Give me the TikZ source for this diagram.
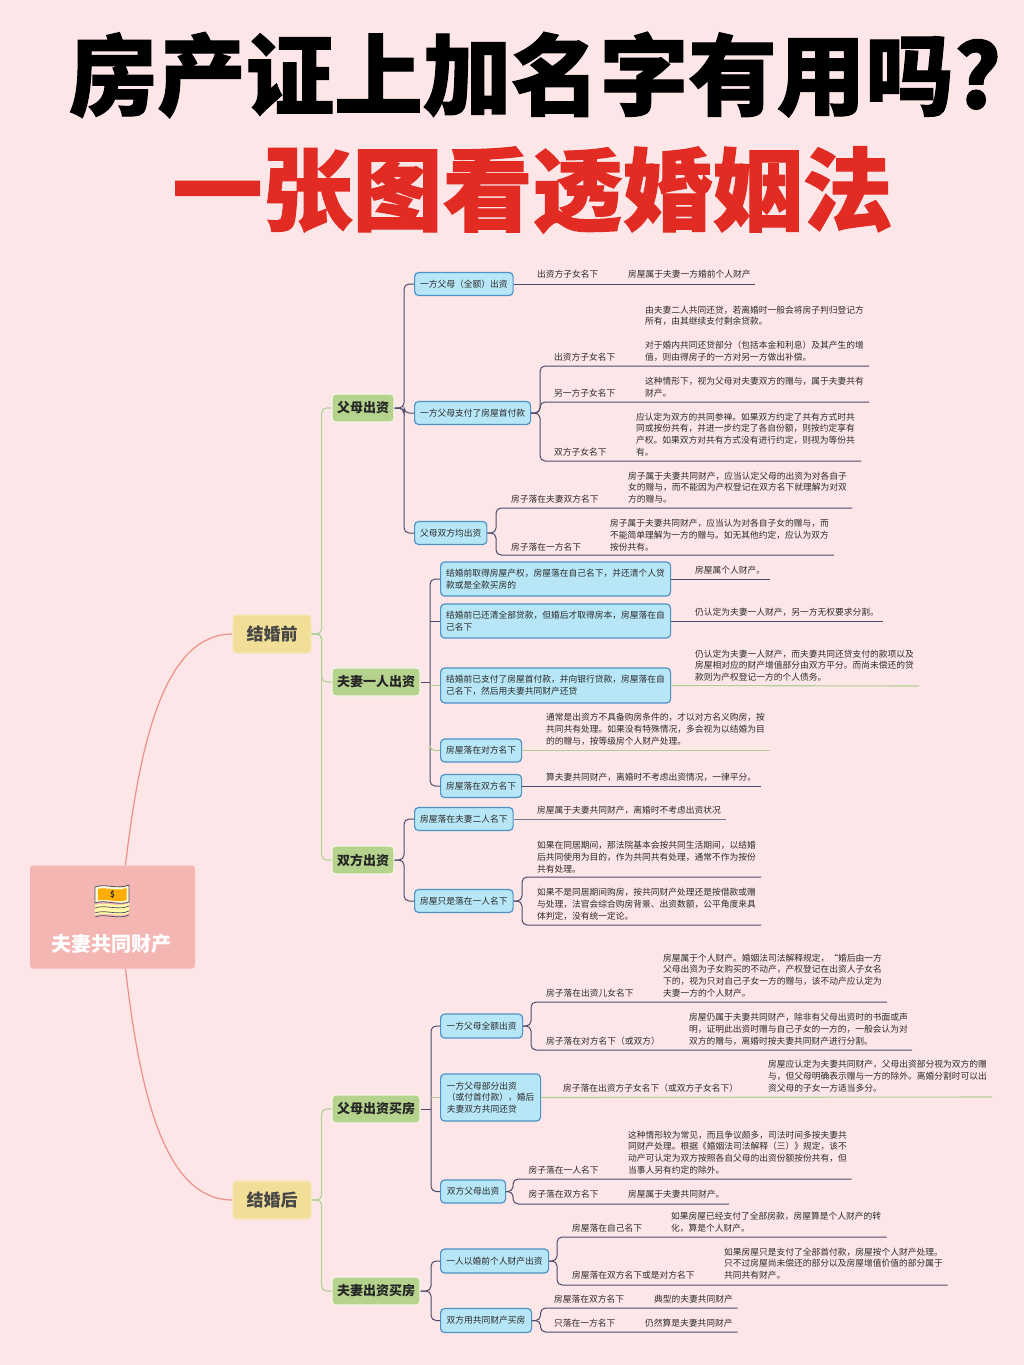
\documentclass[tikz,border=0pt]{standalone}
\usepackage{fontspec}
\setmainfont{Noto Sans CJK SC}
\newfontfamily\titlef[FakeBold=1.2]{Noto Sans CJK SC Black}
\definecolor{bgc}{HTML}{FDE6E8}
\definecolor{rootc}{HTML}{F4B6B3}
\definecolor{yelc}{HTML}{F1DE97}
\definecolor{yelb}{HTML}{F6E8BC}
\definecolor{grnc}{HTML}{B5D38C}
\definecolor{grnb}{HTML}{F6F6EC}
\definecolor{bluc}{HTML}{B7E6F6}
\definecolor{blub}{HTML}{4F93C6}
\definecolor{darkl}{HTML}{4B4B69}
\definecolor{grayl}{HTML}{77778F}
\definecolor{lgrn}{HTML}{AFCF95}
\definecolor{sal}{HTML}{F08F88}
\definecolor{titler}{HTML}{E22B22}
\definecolor{txt}{HTML}{2B2B2B}
\tikzset{
  rootbox/.style={fill=rootc,rounded corners=3pt,inner sep=0pt},
  yelbox/.style={fill=yelc,draw=yelb,line width=1.2pt,rounded corners=3.5pt,minimum width=78pt,minimum height=38pt,inner sep=0pt,font=\fontsize{17}{20}\selectfont\bfseries,text=black!72},
  grnbox/.style={fill=grnc,draw=grnb,line width=1.3pt,rounded corners=3.5pt,minimum height=28pt,inner sep=4pt,font=\fontsize{13}{16}\selectfont\bfseries,text=black!85},
  blubox/.style={fill=bluc,draw=blub,line width=1.2pt,rounded corners=4pt,anchor=west,inner xsep=5.5pt,inner ysep=0pt,align=left,font=\fontsize{8.75}{11.6}\selectfont,text=txt},
  leaf/.style={anchor=west,inner sep=0pt,align=left,font=\fontsize{8.75}{11.8}\selectfont,text=txt},
  conn/.style={draw=darkl,line width=1pt,rounded corners=5pt},
  conngray/.style={draw=grayl,line width=1pt,rounded corners=5pt},
  conngrn/.style={draw=lgrn,line width=1.1pt,rounded corners=5pt},
  connsal/.style={draw=sal,line width=1.2pt},
  titletxt/.style={inner sep=0pt,font=\titlef\fontsize{88.5}{100}\selectfont},
  titletxtb/.style={inner sep=0pt,font=\titlef\fontsize{90}{100}\selectfont}
}
\newcommand{\lfnode}[4]{\node[leaf] (#1) at (#2,#3) {#4};}
\newcommand{\blnode}[6]{\node[blubox,minimum width=#3pt,minimum height=#4pt] (#1) at (#2,#5) {#6};}
\newcommand{\tipc}[3]{\coordinate (#1) at (#2,#3);}
\begin{document}
\begin{tikzpicture}[x=1pt,y=-1pt]
\useasboundingbox (0,0) rectangle (1024,1365);
\fill[bgc] (0,0) rectangle (1024,1365);
% titles
\node[titletxt,text=black] (t1) at (535,75) {房产证上加名字有用吗?};
\node[titletxtb,text=titler] (t2) at (532.5,190) {一张图看透婚姻法};
% root
\node[rootbox,minimum width=165pt,minimum height=103pt] (root) at (112.5,917) {};
\node[inner sep=0pt,font=\fontsize{20}{24}\selectfont\bfseries,text=white] (roott) at (111.5,944) {夫妻共同财产};
% icon
\foreach \yy in {905,910}{\fill[yellow!35] (95,\yy) .. controls (105,\yy-4) and (118,\yy+3) .. (129,\yy-2) -- (129,\yy+3) .. controls (118,\yy+8) and (105,\yy+1) .. (95,\yy+5) -- cycle;}
\draw[darkl,line width=.8pt,fill=yellow!15] (95,887) .. controls (105,883) and (118,890) .. (129,885) -- (129,902) .. controls (118,906) and (105,899) .. (95,903) -- cycle;
\fill[orange!65!yellow] (98,889) .. controls (105,886.5) and (118,892) .. (126.5,888) -- (126.5,900) .. controls (118,903.5) and (105,898) .. (98,900.5) -- cycle;
\node[inner sep=0pt,font=\fontsize{8}{8}\selectfont\bfseries,text=black!80] (dollar) at (112.5,895) {\$};
\foreach \yy in {908,913,917}{\draw[darkl,line width=.7pt] (95,\yy) .. controls (105,\yy-4) and (118,\yy+3) .. (129,\yy-2);}
% level 1
\node[yelbox] (qian) at (272,634) {结婚前};
\node[yelbox] (hou) at (272,1200) {结婚后};
\draw[connsal] (root.north) ++(13,0) .. controls (140,740) and (165,634) .. (qian.west);
\draw[connsal] (root.south) ++(13,0) .. controls (140,1095) and (165,1200) .. (hou.west);
% level 2
\node[grnbox,minimum width=62pt] (g1) at (363,408) {父母出资};
\node[grnbox,minimum width=88pt] (g2) at (376,682) {夫妻一人出资};
\node[grnbox,minimum width=62pt] (g3) at (363,860) {双方出资};
\node[grnbox,minimum width=88pt] (g4) at (376,1109) {父母出资买房};
\node[grnbox,minimum width=88pt] (g5) at (376,1291) {夫妻出资买房};
\foreach \g in {g1,g2,g3}{\draw[conngrn] (qian.east) -- +(10,0) |- (\g.west);}
\foreach \g in {g4,g5}{\draw[conngrn] (hou.east) -- +(10,0) |- (\g.west);}
% ---- g1
\blnode{a1}{414}{98}{23}{284}{一方父母（全额）出资}
\blnode{a2}{414}{116}{23}{413}{一方父母支付了房屋首付款}
\blnode{a3}{414}{72}{23}{533}{父母双方均出资}
\foreach \n in {a1,a2,a3}{\draw[conn] (g1.east) -- (404,408) |- (\n.west);}
\lfnode{a1l}{537}{274.5}{出资方子女名下}
\lfnode{a1t}{628}{274.5}{房屋属于夫妻一方婚前个人财产}
\tipc{a1e}{755}{284}
\draw[conn] (a1.east) -- (a1e);
\lfnode{a2l1}{554}{357}{出资方子女名下}
\lfnode{a2t1}{645}{333.5}{由夫妻二人共同还贷，若离婚时一般会将房子判归登记方\\所有，由其继续支付剩余贷款。\\[11.8pt]对于婚内共同还贷部分（包括本金和利息）及其产生的增\\值，则由得房子的一方对另一方做出补偿。}
\lfnode{a2l2}{554}{393}{另一方子女名下}
\lfnode{a2t2}{645}{387}{这种情形下，视为父母对夫妻双方的赠与，属于夫妻共有\\财产。}
\lfnode{a2l3}{554}{452}{双方子女名下}
\lfnode{a2t3}{636}{434.5}{应认定为双方的共同参禅。如果双方约定了共有方式时共\\同或按份共有，并进一步约定了各自份额，则按约定享有\\产权。如果双方对共有方式没有进行约定，则视为等份共\\有。}
\tipc{a2e1}{869}{366}\tipc{a2e2}{869}{402}\tipc{a2e3}{861}{461}
\foreach \e in {a2e1,a2e2,a2e3}{\draw[conn] (a2.east) -- (540,413) |- (\e);}
\lfnode{a3l1}{511}{499}{房子落在夫妻双方名下}
\lfnode{a3t1}{628}{487.5}{房子属于夫妻共同财产，应当认定父母的出资为对各自子\\女的赠与，而不能因为产权登记在双方名下就理解为对双\\方的赠与。}
\lfnode{a3l2}{511}{547}{房子落在一方名下}
\lfnode{a3t2}{610}{535}{房子属于夫妻共同财产，应当认为对各自子女的赠与，而\\不能简单理解为一方的赠与。如无其他约定，应认为双方\\按份共有。}
\tipc{a3e1}{852}{508}\tipc{a3e2}{834}{555}
\foreach \e in {a3e1,a3e2}{\draw[conn] (a3.east) -- (496,533) |- (\e);}
% ---- g2
\blnode{b1}{440}{230}{34}{579}{结婚前取得房屋产权，房屋落在自己名下，并还清个人贷\\款或是全款买房的}
\blnode{b2}{440}{230}{34}{621}{结婚前已还清全部贷款，但婚后才取得房本，房屋落在自\\己名下}
\blnode{b3}{440}{230}{35}{685.5}{结婚前已支付了房屋首付款，并向银行贷款，房屋落在自\\己名下，然后用夫妻共同财产还贷}
\blnode{b4}{440}{81}{23}{750.5}{房屋落在对方名下}
\blnode{b5}{440}{81}{23}{786}{房屋落在双方名下}
\draw[conn] (g2.east) -- (430,682);
\draw[conn] (b1.west) -- (430,579) -- (430,786) -- (b5.west);
\draw[conn] (b2.west) -- (430,621);
\draw[conngrn] (430,685.5) -- (b3.west);
\draw[conngrn] (430,745) |- (b4.west);
\lfnode{b1t}{695}{570}{房屋属个人财产。}
\lfnode{b2t}{695}{612}{仍认定为夫妻一人财产，另一方无权要求分割。}
\lfnode{b3t}{695}{665.5}{仍认定为夫妻一人财产，而夫妻共同还贷支付的款项以及\\房屋相对应的财产增值部分由双方平分。而尚未偿还的贷\\款则为产权登记一方的个人债务。}
\lfnode{b4t}{546}{729.5}{通常是出资方不具备购房条件的，才以对方名义购房，按\\共同共有处理。如果没有特殊情况，多会视为以结婚为目\\的的赠与，按等级房个人财产处理。}
\lfnode{b5t}{546}{777}{算夫妻共同财产，离婚时不考虑出资情况，一律平分。}
\tipc{b1e}{770}{579}\tipc{b2e}{883}{621}\tipc{b3e}{919}{686}\tipc{b4e}{770}{750.5}\tipc{b5e}{761}{786}
\draw[conn] (b1.east) -- (b1e);
\draw[conn] (b2.east) -- (b2e);
\draw[conngrn] (b3.east) -- (b3e);
\draw[conngrn] (b4.east) -- (b4e);
\draw[conn] (b5.east) -- (b5e);
% ---- g3
\blnode{c1}{414}{98}{23}{819}{房屋落在夫妻二人名下}
\blnode{c2}{414}{98}{23}{901}{房屋只是落在一人名下}
\foreach \n in {c1,c2}{\draw[conn] (g3.east) -- (404,860) |- (\n.west);}
\lfnode{c1t}{537}{810}{房屋属于夫妻共同财产，离婚时不考虑出资状况}
\tipc{c1e}{726}{819}
\draw[conngray] (c1.east) -- (c1e);
\lfnode{c2t1}{537}{857}{如果在同居期间，那法院基本会按共同生活期间，以结婚\\后共同使用为目的，作为共同共有处理，通常不作为按份\\共有处理。}
\lfnode{c2t2}{537}{904.5}{如果不是同居期间购房，按共同财产处理还是按借款或赠\\与处理，法官会综合购房背景、出资数额，公平角度来具\\体判定，没有统一定论。}
\tipc{c2e1}{761}{877}\tipc{c2e2}{761}{925}
\foreach \e in {c2e1,c2e2}{\draw[conn] (c2.east) -- (522,901) |- (\e);}
% ---- g4
\blnode{d1}{440}{82}{24}{1026}{一方父母全额出资}
\blnode{d2}{440}{100}{47}{1097.5}{一方父母部分出资\\（或付首付款），婚后\\夫妻双方共同还贷}
\blnode{d3}{440}{65}{23}{1191.5}{双方父母出资}
\draw[conn] (g4.east) -- (431,1109);
\draw[conn] (d1.west) -- (431,1026) -- (431,1191.5) -- (d3.west);
\draw[conngrn] (431,1097.5) -- (d2.west);
\lfnode{d1l1}{546}{993}{房子落在出资儿女名下}
\lfnode{d1t1}{663}{975.5}{房屋属于个人财产。婚姻法司法解释规定，“婚后由一方\\父母出资为子女购买的不动产，产权登记在出资人子女名\\下的，视为只对自己子女一方的赠与，该不动产应认定为\\夫妻一方的个人财产。}
\lfnode{d1l2}{546}{1041}{房子落在对方名下（或双方）}
\lfnode{d1t2}{689}{1029}{房屋仍属于夫妻共同财产，除非有父母出资时的书面或声\\明，证明此出资时赠与自己子女的一方的，一般会认为对\\双方的赠与，离婚时按夫妻共同财产进行分割。}
\tipc{d1e1}{887}{1002}\tipc{d1e2}{912}{1050}
\foreach \e in {d1e1,d1e2}{\draw[conn] (d1.east) -- (531,1026) |- (\e);}
\lfnode{d2l}{563}{1088}{房子落在出资方子女名下（或双方子女名下）}
\lfnode{d2t}{768}{1076}{房屋应认定为夫妻共同财产，父母出资部分视为双方的赠\\与，但父母明确表示赠与一方的除外。离婚分割时可以出\\资父母的子女一方适当多分。}
\tipc{d2e}{992}{1097}
\draw[conngrn] (d2.east) -- (d2e);
\lfnode{d3l1}{528.5}{1170}{房子落在一人名下}
\lfnode{d3t1}{628}{1152.5}{这种情形较为常见，而且争议颇多，司法时间多按夫妻共\\同财产处理。根据《婚姻法司法解释（三）》规定，该不\\动产可认定为双方按照各自父母的出资份额按份共有，但\\当事人另有约定的除外。}
\lfnode{d3l2}{528.5}{1194.5}{房子落在双方名下}
\lfnode{d3t2}{628}{1194.5}{房屋属于夫妻共同财产。}
\tipc{d3e1}{851.5}{1179}\tipc{d3e2}{729}{1204}
\foreach \e in {d3e1,d3e2}{\draw[conn] (d3.east) -- (513,1191.5) |- (\e);}
% ---- g5
\blnode{f1}{440}{108}{24}{1261}{一人以婚前个人财产出资}
\blnode{f2}{440}{91}{24}{1320.5}{双方用共同财产买房}
\foreach \n in {f1,f2}{\draw[conn] (g5.east) -- (431,1291) |- (\n.west);}
\lfnode{f1l1}{572}{1228}{房屋落在自己名下}
\lfnode{f1t1}{671}{1222.5}{如果房屋已经支付了全部房款，房屋算是个人财产的转\\化，算是个人财产。}
\lfnode{f1l2}{572}{1275.5}{房屋落在双方名下或是对方名下}
\lfnode{f1t2}{724}{1263.5}{如果房屋只是支付了全部首付款，房屋按个人财产处理。\\只不过房屋尚未偿还的部分以及房屋增值价值的部分属于\\共同共有财产。}
\tipc{f1e1}{886.5}{1237}\tipc{f1e2}{947.5}{1285}
\foreach \e in {f1e1,f1e2}{\draw[conn] (f1.east) -- (557,1261) |- (\e);}
\lfnode{f2l1}{554}{1299}{房屋落在双方名下}
\lfnode{f2t1}{654}{1299}{典型的夫妻共同财产}
\lfnode{f2l2}{554}{1323}{只落在一方名下}
\lfnode{f2t2}{645}{1323}{仍然算是夫妻共同财产}
\tipc{f2e1}{737.5}{1308}\tipc{f2e2}{737.5}{1332}
\foreach \e in {f2e1,f2e2}{\draw[conn] (f2.east) -- (540.5,1320.5) |- (\e);}
\end{tikzpicture}
\end{document}
